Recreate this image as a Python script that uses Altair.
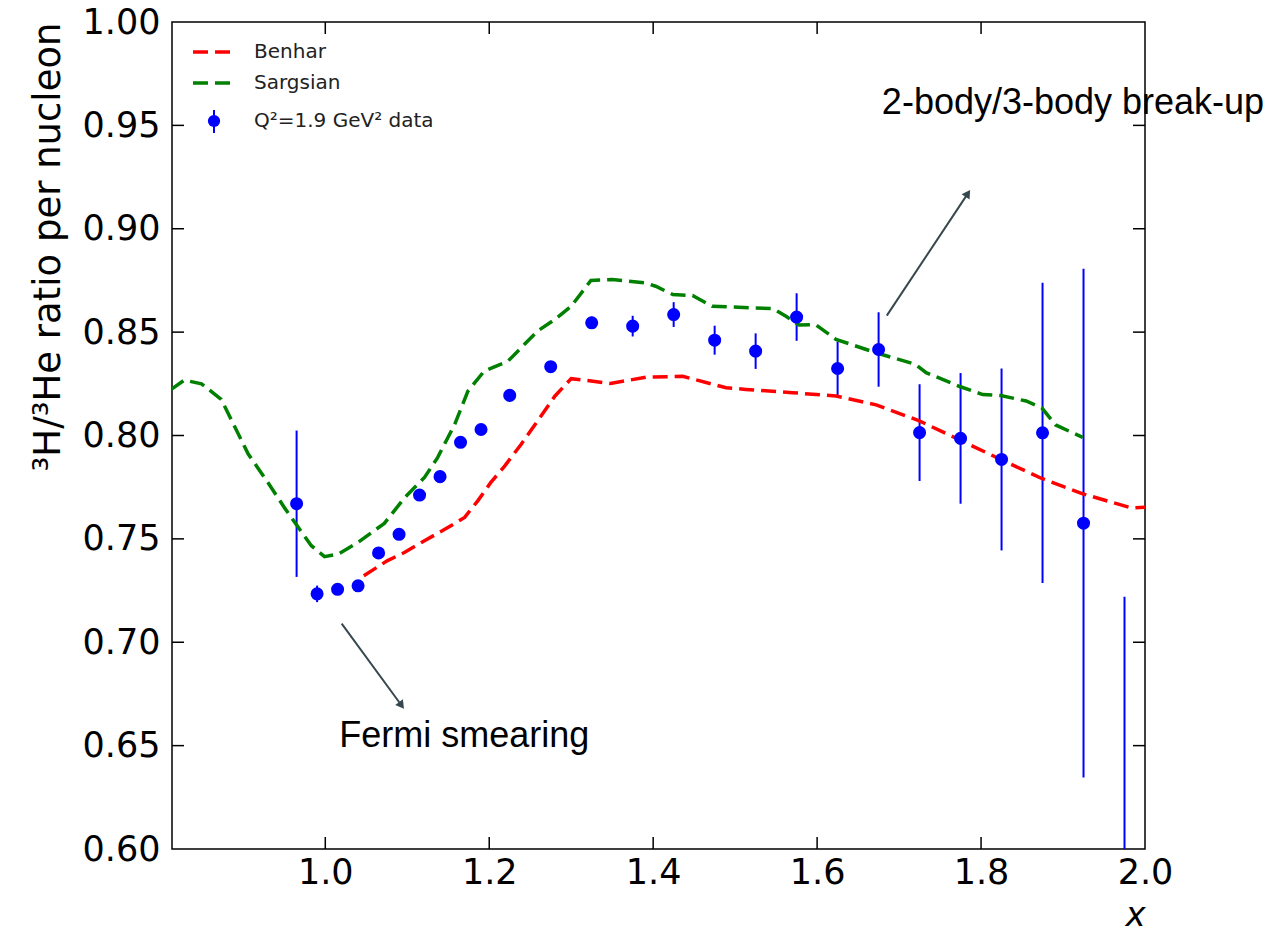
import altair as alt
import pandas as pd

# ---------------- data ----------------
x_data = [0.965, 0.99, 1.015, 1.04, 1.065, 1.09, 1.115, 1.14, 1.165, 1.19, 1.225, 1.275,
          1.325, 1.375, 1.425, 1.475, 1.525, 1.575, 1.625, 1.675, 1.725, 1.775, 1.825,
          1.875, 1.925, 1.975]
y_data = [0.767, 0.7234, 0.7256, 0.7273, 0.7432, 0.7522, 0.7712, 0.7801, 0.7967, 0.8029,
          0.8194, 0.8333, 0.8545, 0.8529, 0.8585, 0.8461, 0.8408, 0.8573, 0.8324, 0.8416,
          0.8014, 0.7986, 0.7884, 0.8013, 0.7576, 0.56]
y_err = [0.0354, 0.004, 0.002, 0.002, 0.002, 0.002, 0.002, 0.002, 0.002, 0.002,
         0.002, 0.002, 0.003, 0.005, 0.006, 0.007, 0.0086, 0.0115, 0.013, 0.018,
         0.0234, 0.0316, 0.044, 0.0726, 0.123, 0.162]

benhar_x = [1.047, 1.076, 1.097, 1.121, 1.150, 1.170, 1.186, 1.202, 1.219, 1.239, 1.259,
            1.280, 1.300, 1.348, 1.393, 1.436, 1.489, 1.513, 1.570, 1.623, 1.672, 1.724,
            1.769, 1.824, 1.874, 1.924, 1.983, 2.0]
benhar_y = [0.7322, 0.7395, 0.7435, 0.7491, 0.7556, 0.7604, 0.7684, 0.7773, 0.7853, 0.7958,
            0.8070, 0.8190, 0.8275, 0.8252, 0.8283, 0.8286, 0.8231, 0.8223, 0.8207, 0.8191,
            0.8148, 0.8072, 0.7988, 0.7884, 0.7792, 0.7718, 0.7650, 0.7653]

sargsian_x = [0.812, 0.828, 0.849, 0.873, 0.906, 0.930, 0.950, 0.967, 0.983, 0.999, 1.016,
              1.040, 1.072, 1.097, 1.121, 1.137, 1.158, 1.174, 1.194, 1.223, 1.243, 1.259,
              1.280, 1.300, 1.324, 1.350, 1.391, 1.403, 1.424, 1.448, 1.472, 1.546, 1.562,
              1.578, 1.598, 1.623, 1.672, 1.720, 1.733, 1.774, 1.802, 1.824, 1.855, 1.874,
              1.891, 1.924]
sargsian_y = [0.8223, 0.8268, 0.8250, 0.8175, 0.7910, 0.7773, 0.7652, 0.7556, 0.7467, 0.7414,
              0.7427, 0.7483, 0.7575, 0.7700, 0.7797, 0.7893, 0.8055, 0.8215, 0.8312, 0.8360,
              0.8441, 0.8505, 0.8561, 0.8625, 0.8750, 0.8754, 0.8738, 0.8722, 0.8682, 0.8677,
              0.8625, 0.8614, 0.8577, 0.8534, 0.8537, 0.8465, 0.8400, 0.8344, 0.8304, 0.8237,
              0.8198, 0.8193, 0.8167, 0.8134, 0.8051, 0.7991]

x_ticks = [1.0, 1.2, 1.4, 1.6, 1.8, 2.0]
y_ticks = [0.60, 0.65, 0.70, 0.75, 0.80, 0.85, 0.90, 0.95, 1.00]

legend_labels = ["Benhar", "Sargsian", "Q²=1.9 GeV² data"]
y_title = "³H/³He ratio per nucleon"
x_title = "x"

ann_texts = ["Fermi smearing", "2-body/3-body break-up"]
ann_x = [1.017, 1.679]
ann_y = [0.6492, 0.9555]
arrow_x0 = [1.020, 1.685]
arrow_y0 = [0.709, 0.858]
arrow_x1 = [1.092, 1.783]
arrow_y1 = [0.670, 0.9165]
arrow_angle = [143.6, 33.6]

# ---------------- chart ----------------
W, H = 973, 827
TICK = 12
RED, GREEN, BLUE = "#ff0000", "#008000", "#0000ff"
ARROW = "#37474f"
FONT = "DejaVu Sans"

xs = alt.Scale(domain=[0.813, 2.0], nice=False, zero=False)
ys = alt.Scale(domain=[0.6, 1.0], nice=False, zero=False)

xaxis = alt.Axis(values=x_ticks, format=".1f", title=x_title, titleAnchor="end",
                 titleFontStyle="italic", titleFontWeight="normal", titleFontSize=34,
                 titleFont=FONT, titleColor="black", titlePadding=8,
                 labelFont=FONT, labelFontSize=35, labelColor="black", labelPadding=6,
                 labelFlush=False, labelOverlap=False, ticks=False, domain=False, grid=False)
yaxis = alt.Axis(values=y_ticks, format=".2f", title=y_title, titleAnchor="end",
                 titleFontWeight="normal", titleFontSize=37, titleFont=FONT,
                 titleColor="black", titlePadding=15,
                 labelFont=FONT, labelFontSize=35, labelColor="black", labelPadding=12,
                 labelFlush=False, labelOverlap=False, ticks=False, domain=False, grid=False)


def X(f):
    return alt.X(f, type="quantitative", scale=xs, axis=xaxis)


def Y(f):
    return alt.Y(f, type="quantitative", scale=ys, axis=yaxis)


pts = pd.DataFrame({"x": x_data, "y": y_data, "err": y_err})
pts["lo"] = pts["y"] - pts["err"]
pts["hi"] = pts["y"] + pts["err"]

errbars = alt.Chart(pts).mark_rule(color=BLUE, strokeWidth=2, clip=True).encode(
    x=X("x"), y=Y("lo"), y2="hi")
dots = alt.Chart(pts).mark_circle(color=BLUE, opacity=1, size=170, clip=True).encode(
    x=X("x"), y=Y("y"))

benhar = alt.Chart(pd.DataFrame({"x": benhar_x, "y": benhar_y})).mark_line(
    color=RED, strokeWidth=3.5, strokeDash=[15, 7], clip=True).encode(x=X("x"), y=Y("y"))
sargsian = alt.Chart(pd.DataFrame({"x": sargsian_x, "y": sargsian_y})).mark_line(
    color=GREEN, strokeWidth=3.5, strokeDash=[15, 7], clip=True).encode(x=X("x"), y=Y("y"))

# inward ticks on all four sides
xt = pd.DataFrame({"t": x_ticks[:-1]})
yt = pd.DataFrame({"t": y_ticks[1:-1]})
tick_bottom = alt.Chart(xt).mark_rule(color="black", strokeWidth=1.5).encode(
    x=X("t"), y=alt.value(H), y2=alt.value(H - TICK))
tick_top = alt.Chart(xt).mark_rule(color="black", strokeWidth=1.5).encode(
    x=X("t"), y=alt.value(0), y2=alt.value(TICK))
tick_left = alt.Chart(yt).mark_rule(color="black", strokeWidth=1.5).encode(
    y=Y("t"), x=alt.value(0), x2=alt.value(TICK))
tick_right = alt.Chart(yt).mark_rule(color="black", strokeWidth=1.5).encode(
    y=Y("t"), x=alt.value(W), x2=alt.value(W - TICK))

# annotations
ann = pd.DataFrame({"t": ann_texts, "x": ann_x, "y": ann_y})
ann_text = alt.Chart(ann).mark_text(align="left", baseline="alphabetic", font="Liberation Sans",
                                    fontSize=36, color="black").encode(
    x=X("x"), y=Y("y"), text="t:N")
arr = pd.DataFrame({"x0": arrow_x0, "y0": arrow_y0, "x1": arrow_x1, "y1": arrow_y1,
                    "a": arrow_angle})
arrow_lines = alt.Chart(arr).mark_rule(color=ARROW, strokeWidth=2).encode(
    x=X("x0"), y=Y("y0"), x2="x1", y2="y1")
arrow_heads = alt.Chart(arr).mark_point(shape="triangle", filled=True, color=ARROW,
                                        opacity=1, size=90).encode(
    x=X("x1"), y=Y("y1"), angle=alt.Angle("a:Q", scale=None))


# legend (top-left, inside the frame)
def leg_text(label, ypx):
    return alt.Chart(pd.DataFrame({"l": [label]})).mark_text(
        align="left", baseline="middle", font=FONT, fontSize=20, color="#222222").encode(
        x=alt.value(82), y=alt.value(ypx), text="l:N")


def leg_line(color, ypx):
    return alt.Chart(pd.DataFrame({"l": [0]})).mark_rule(
        color=color, strokeWidth=3.5, strokeDash=[15, 7]).encode(
        x=alt.value(21), x2=alt.value(58), y=alt.value(ypx))


leg_err = alt.Chart(pd.DataFrame({"l": [0]})).mark_rule(color=BLUE, strokeWidth=2).encode(
    x=alt.value(42), y=alt.value(88), y2=alt.value(111))
leg_dot = alt.Chart(pd.DataFrame({"l": [0]})).mark_circle(color=BLUE, opacity=1, size=150).encode(
    x=alt.value(42), y=alt.value(99))

chart = alt.layer(
    errbars, benhar, sargsian, dots,
    tick_bottom, tick_top, tick_left, tick_right,
    arrow_lines, arrow_heads, ann_text,
    leg_line(RED, 30), leg_text(legend_labels[0], 30),
    leg_line(GREEN, 61), leg_text(legend_labels[1], 61),
    leg_err, leg_dot, leg_text(legend_labels[2], 99),
).properties(
    width=W, height=H,
    autosize=alt.AutoSizeParams(type="none"),
    padding={"left": 164, "top": 14, "right": 130, "bottom": 84},
    background="white",
).configure_view(stroke="black", strokeWidth=1.5)

chart.save("out.html", embed_options={"renderer": "svg", "actions": False})
